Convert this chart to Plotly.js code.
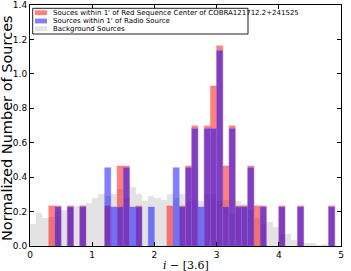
<!DOCTYPE html>
<html>
<head>
<meta charset="utf-8">
<script src="https://cdn.plot.ly/plotly-3.0.1.min.js"></script>
<style>html,body{margin:0;padding:0;background:#fff;}#chart{width:351px;height:271px;}</style>
</head>
<body>
<div id="chart"></div>
<script>
// Background sources: bin centres (bin width 0.1) and normalized heights
const bgCenters = [0.05,0.15,0.25,0.35,0.45,0.55,0.65,0.75,0.85,0.95,
  1.05,1.15,1.25,1.35,1.45,1.55,1.65,1.75,1.85,1.95,
  2.05,2.15,2.25,2.35,2.45,2.55,2.65,2.75,2.85,2.95,
  3.05,3.15,3.25,3.35,3.45,3.55,3.65,3.75,3.85,3.95,
  4.05,4.15,4.25,4.35,4.45,4.55,4.65,4.75,4.85,4.95];
const bgValues = [0.13,0.19,0.16,0.17,0.20,0.21,0.22,0.23,0.24,0.25,
  0.28,0.30,0.29,0.30,0.33,0.28,0.34,0.30,0.26,0.29,
  0.28,0.27,0.30,0.28,0.30,0.26,0.27,0.26,0.30,0.30,
  0.26,0.27,0.18,0.26,0.245,0.21,0.16,0.13,0.14,0.11,
  0.067,0.067,0.033,0.023,0.02,0.017,0.008,0.01,0.005,0.0];

// Sources within 1' of Red Sequence Center
const redCenters = [0.35,0.45,0.65,0.85,1.25,1.45,1.55,1.75,2.25,2.45,2.55,2.65,2.85,2.95,
  3.05,3.15,3.25,3.35,3.45,3.55,3.65,3.75,4.05,4.35,4.85];
const redValues = [0.233,0.233,0.233,0.233,0.233,0.465,0.465,0.233,0.233,0.233,0.465,0.698,0.698,0.930,
  1.163,0.465,0.698,0.233,0.233,0.465,0.233,0.233,0.233,0.233,0.233];

// Sources within 1' of Radio Source
const blueCenters = [0.45,0.65,0.85,1.25,1.35,1.45,1.55,1.65,1.75,1.95,2.35,2.45,2.55,2.65,2.75,
  2.85,2.95,3.05,3.15,3.25,3.35,3.45,3.55,3.75,4.05,4.35,4.85];
const blueValues = [0.227,0.227,0.227,0.455,0.227,0.227,0.455,0.227,0.227,0.227,0.455,0.227,0.455,0.682,0.227,
  0.682,0.682,1.136,0.227,0.682,0.227,0.227,0.455,0.227,0.227,0.227,0.227];

const seriesNames = ["Souces within 1' of Red Sequence Center of COBRA121712.2+241525",
  "Sources within 1' of Radio Source", "Background Sources"];
const xTickVals = [0,1,2,3,4,5];
const yTickVals = [0.0,0.2,0.4,0.6,0.8,1.0,1.2,1.4];

const binW = 0.1;
const traces = [
  {type:'bar', x:bgCenters, y:bgValues, width:binW, name:seriesNames[2],
   marker:{color:'rgba(200,200,200,0.5)', line:{width:0}}},
  {type:'bar', x:redCenters, y:redValues, width:binW, name:seriesNames[0],
   marker:{color:'rgba(255,0,0,0.5)', line:{width:0.6, color:'rgba(255,120,120,0.6)'}}},
  {type:'bar', x:blueCenters, y:blueValues, width:binW, name:seriesNames[1],
   marker:{color:'rgba(0,0,255,0.5)', line:{width:0.6, color:'rgba(140,120,255,0.6)'}}}
];

// legend built from paper-coordinate shapes + text
const pw = 311, ph = 241;
function px(x){return (x-30)/pw;}
function py(y){return (246-y)/ph;}
const legColors = ['rgba(255,0,0,0.5)','rgba(0,0,255,0.5)','rgba(200,200,200,0.5)'];
const rowY = [12.7, 21, 28.7];
const shapes = [{type:'rect', xref:'paper', yref:'paper', x0:px(32.7), x1:px(248), y0:py(34), y1:py(8.3),
  line:{color:'#222', width:1}, fillcolor:'rgba(255,255,255,1)', layer:'above'}];
const annotations = [];
for (let i=0;i<3;i++){
  shapes.push({type:'rect', xref:'paper', yref:'paper', x0:px(35), x1:px(47), y0:py(rowY[i]+2.4), y1:py(rowY[i]-2.4),
    line:{width:0}, fillcolor:legColors[i], layer:'above'});
  annotations.push({xref:'paper', yref:'paper', x:px(50.5), y:py(rowY[i]), xanchor:'left', yanchor:'middle',
    text:seriesNames[i], showarrow:false, font:{family:'DejaVu Sans', size:7, color:'#000'}});
}
annotations.push({xref:'paper', yref:'paper', x:px(7), y:py(128), textangle:-90, xanchor:'center', yanchor:'middle',
  text:'Normalized Number of Sources', showarrow:false, font:{family:'DejaVu Sans', size:14.5, color:'#000'}});
annotations.push({xref:'paper', yref:'paper', x:px(186), y:py(265), xanchor:'center', yanchor:'middle',
  text:'<i>i</i> \u2212 [3.6]', showarrow:false, font:{family:'DejaVu Serif', size:11, color:'#000'}});

const layout = {
  width:351, height:271,
  margin:{l:30, r:10, t:5, b:25},
  paper_bgcolor:'#fff', plot_bgcolor:'#fff',
  barmode:'overlay', bargap:0,
  showlegend:false,
  font:{family:'DejaVu Sans', size:9, color:'#000'},
  xaxis:{range:[0,5], tickvals:xTickVals, ticktext:xTickVals.map(String), ticks:'inside', ticklen:4, tickcolor:'#000',
    showline:true, linecolor:'#000', linewidth:1, mirror:'ticks', showgrid:false, zeroline:false,
    tickfont:{size:9}},
  yaxis:{range:[0,1.4], tickvals:yTickVals, ticktext:yTickVals.map(v=>v.toFixed(1)), ticks:'inside', ticklen:4, tickcolor:'#000',
    showline:true, linecolor:'#000', linewidth:1, mirror:'ticks', showgrid:false, zeroline:false,
    tickfont:{size:9}},
  shapes:shapes, annotations:annotations
};
Plotly.newPlot('chart', traces, layout, {displayModeBar:false, staticPlot:true});
</script>
</body>
</html>
